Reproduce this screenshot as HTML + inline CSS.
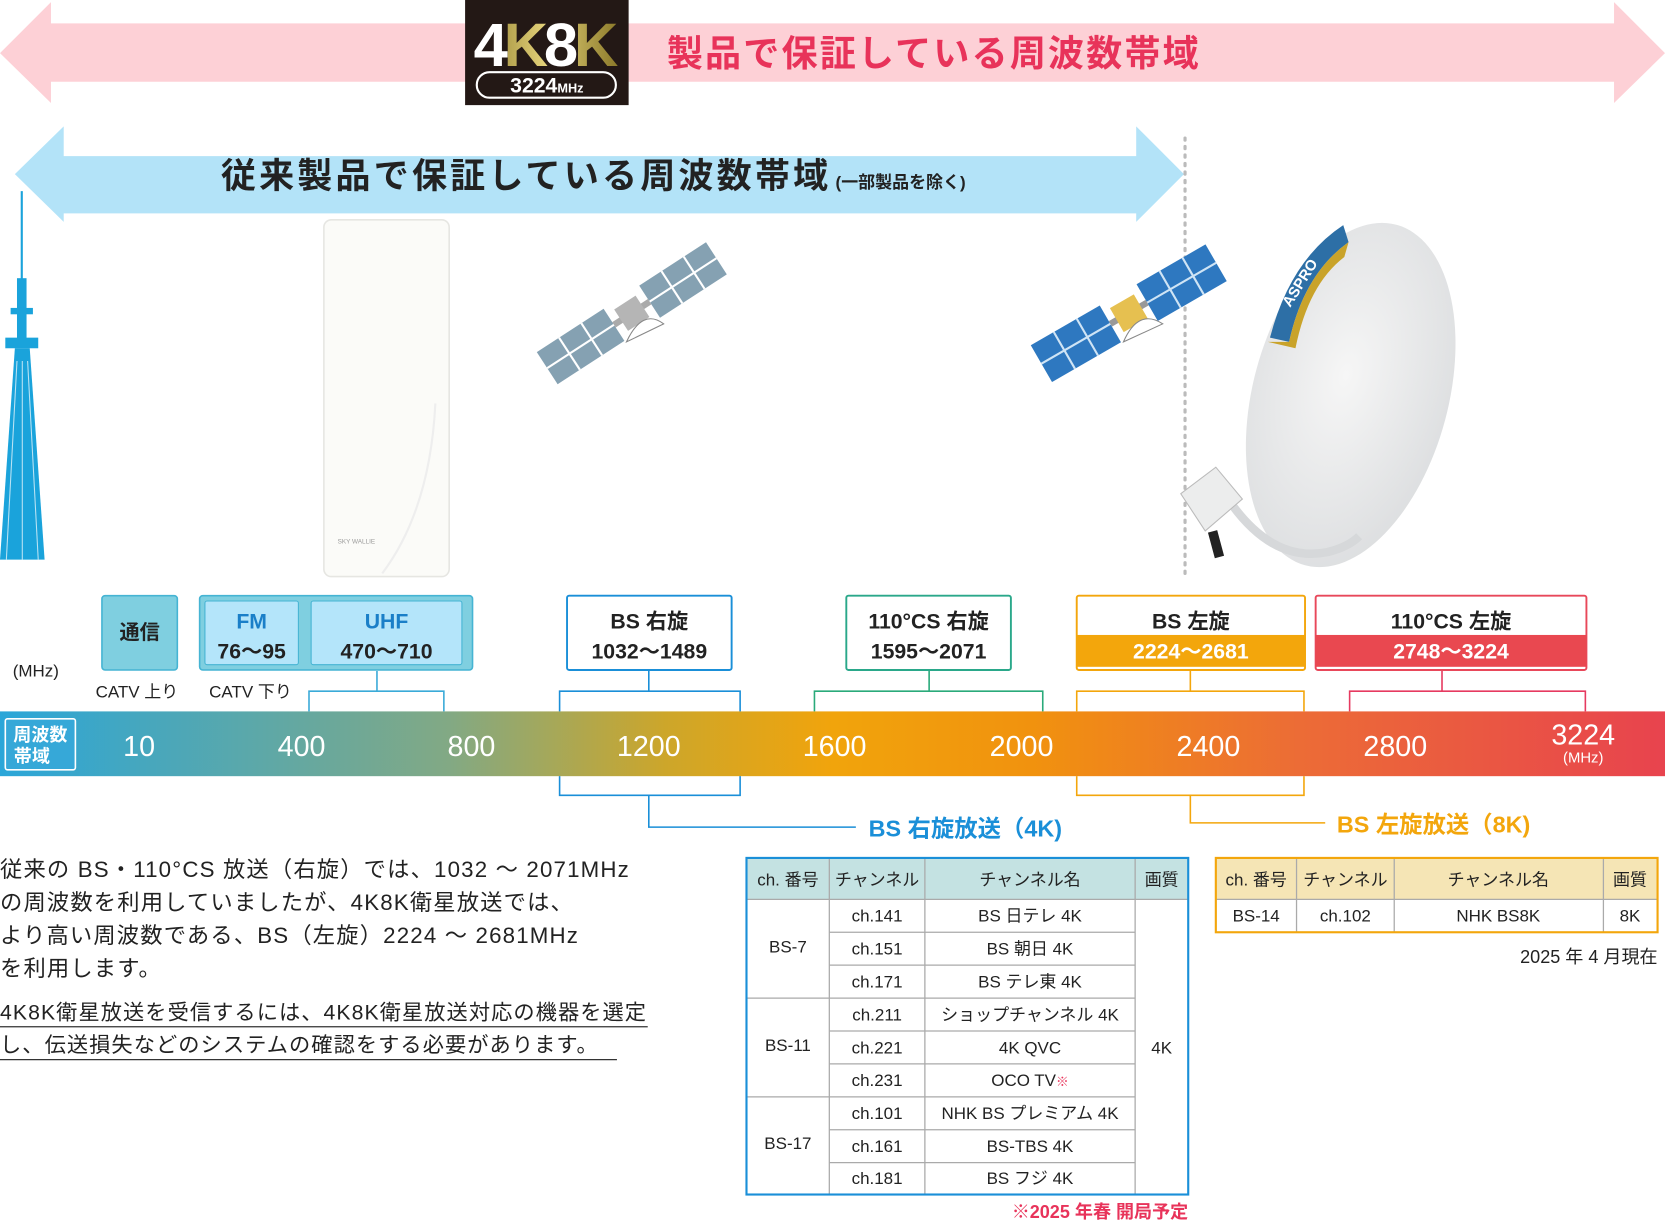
<!DOCTYPE html>
<html><head><meta charset="utf-8"><style>
html,body{margin:0;padding:0;background:#fff;width:1665px;height:1220px;overflow:hidden}
svg{display:block}
text{font-family:"Liberation Sans","Noto Sans CJK JP",sans-serif}
</style></head><body>
<svg width="1665" height="1220" viewBox="0 0 1568 1149" preserveAspectRatio="none" xmlns="http://www.w3.org/2000/svg">
<defs>
<linearGradient id="bar" x1="0" x2="1" y1="0" y2="0">
<stop offset="0" stop-color="#2aa6d9"/>
<stop offset="0.27" stop-color="#82a984"/>
<stop offset="0.4" stop-color="#cda62a"/>
<stop offset="0.5" stop-color="#f1a40c"/>
<stop offset="0.62" stop-color="#f1920e"/>
<stop offset="0.78" stop-color="#ec6c36"/>
<stop offset="1" stop-color="#e8434e"/>
</linearGradient>
<linearGradient id="gold" x1="0" x2="1"><stop offset="0" stop-color="#8c7a2a"/><stop offset="0.5" stop-color="#e4d27a"/><stop offset="1" stop-color="#8c7a2a"/></linearGradient>
<radialGradient id="dish" cx="0.45" cy="0.45" r="0.7"><stop offset="0" stop-color="#f6f6f6"/><stop offset="1" stop-color="#d8dadc"/></radialGradient>
</defs>

<polygon points="0,50 48,2 48,22 1520,22 1520,2 1568,50 1520,97 1520,77 48,77 48,97" fill="#fdd0d6"/>
<rect x="438" y="0" width="154" height="99" fill="#231815"/>
<text x="446" y="62" font-size="58" font-weight="bold" fill="#fff" letter-spacing="-4">4<tspan fill="url(#gold)">K</tspan>8<tspan fill="url(#gold)">K</tspan></text>
<rect x="449" y="68" width="131" height="24" rx="12" fill="none" stroke="#fff" stroke-width="2"/>
<text x="515" y="87" font-size="20" font-weight="bold" fill="#fff" text-anchor="middle">3224<tspan font-size="12">MHz</tspan></text>
<text x="628" y="62" font-size="34" font-weight="bold" fill="#e8335a" letter-spacing="2">製品で保証している周波数帯域</text>

<polygon points="14,164 60,119 60,147 1070,147 1070,119 1115,164 1070,209 1070,201 60,201 60,209" fill="#b3e3f8"/>
<text x="208" y="177" font-size="33" fill="#222" font-weight="bold"><tspan letter-spacing="3">従来製品で保証している周波数帯域</tspan><tspan font-size="16" dx="4">(一部製品を除く)</tspan></text>
<line x1="1116" y1="130" x2="1116" y2="540" stroke="#bbb" stroke-width="3" stroke-dasharray="2 6" stroke-linecap="round"/>

<g fill="#1aa3db">
<rect x="19.5" y="180" width="2" height="90"/>
<rect x="16" y="262" width="9" height="58"/>
<rect x="10" y="290" width="21" height="6"/>
<rect x="5" y="318" width="31" height="10"/>
<polygon points="14,328 28,328 42,527 0,527"/>
</g>
<g stroke="#fff" stroke-width="1" opacity="0.7">
<line x1="16" y1="340" x2="6" y2="527"/><line x1="26" y1="340" x2="36" y2="527"/><line x1="21" y1="340" x2="21" y2="527"/>
</g>

<rect x="305" y="207" width="118" height="336" rx="7" fill="#fbfbf8" stroke="#e6e6e2" stroke-width="1.5"/>
<path d="M410 380 Q405 480 360 540" fill="none" stroke="#eee" stroke-width="2"/>
<text x="318" y="512" font-size="6" fill="#999">SKY WALLIE</text>

<g transform="translate(595,295) rotate(-33)">
<rect x="-95" y="-18" width="75" height="36" fill="#85a1b2"/>
<rect x="20" y="-18" width="75" height="36" fill="#85a1b2"/>
<g stroke="#fff" stroke-width="2"><line x1="-70" y1="-18" x2="-70" y2="18"/><line x1="-45" y1="-18" x2="-45" y2="18"/><line x1="-95" y1="0" x2="-20" y2="0"/><line x1="45" y1="-18" x2="45" y2="18"/><line x1="70" y1="-18" x2="70" y2="18"/><line x1="20" y1="0" x2="95" y2="0"/></g>
<rect x="-20" y="-3" width="40" height="6" fill="#aaa"/>
<rect x="-12" y="-12" width="24" height="24" fill="#b5b5b5"/>
</g>
<path d="M590 322 Q605 290 625 305 Z" fill="#fff" stroke="#888"/>

<g transform="translate(1063,295) rotate(-30)">
<rect x="-95" y="-20" width="75" height="40" fill="#2e78c0"/>
<rect x="20" y="-20" width="75" height="40" fill="#2e78c0"/>
<g stroke="#cfe4f5" stroke-width="2"><line x1="-70" y1="-20" x2="-70" y2="20"/><line x1="-45" y1="-20" x2="-45" y2="20"/><line x1="-95" y1="0" x2="-20" y2="0"/><line x1="45" y1="-20" x2="45" y2="20"/><line x1="70" y1="-20" x2="70" y2="20"/><line x1="20" y1="0" x2="95" y2="0"/></g>
<rect x="-20" y="-3" width="40" height="6" fill="#999"/>
<rect x="-13" y="-13" width="26" height="26" fill="#e6c050"/>
</g>
<path d="M1058 322 Q1072 290 1095 305 Z" fill="#fff" stroke="#888"/>

<ellipse cx="1272" cy="372" rx="92" ry="166" transform="rotate(15 1272 372)" fill="url(#dish)"/>
<path d="M1196 318 Q1215 245 1265 212 L1270 228 Q1228 258 1214 322 Z" fill="#2d6fa6"/>
<path d="M1194 322 L1214 322 Q1228 258 1270 228 L1266 242 Q1232 268 1220 328 Z" fill="#c9a32a"/>
<text x="1215" y="290" font-size="14" font-weight="bold" fill="#fff" transform="rotate(-58 1215 290)">ASPRO</text>
<path d="M1160 475 Q1200 530 1250 520 Q1270 515 1280 505" fill="none" stroke="#d6d8da" stroke-width="8"/>
<path d="M1112 465 L1145 440 L1170 470 L1135 500 Z" fill="#eceded" stroke="#bbb"/>
<rect x="1140" y="500" width="9" height="25" fill="#222" transform="rotate(-15 1145 510)"/>

<rect x="96" y="561" width="71" height="70" rx="3" fill="#7fcfe0" stroke="#45b4d3" stroke-width="1.5"/>
<text x="131.5" y="602" font-size="19" font-weight="bold" fill="#222" text-anchor="middle">通信</text>
<rect x="188" y="561" width="257" height="70" rx="3" fill="#7fcfe0" stroke="#45b4d3" stroke-width="1.5"/>
<rect x="193" y="566" width="88" height="60" rx="2" fill="#b4e5fa" stroke="#45b4d3"/>
<rect x="293" y="566" width="142" height="60" rx="2" fill="#b4e5fa" stroke="#45b4d3"/>
<text x="237" y="592" font-size="20" font-weight="bold" fill="#1a7fc8" text-anchor="middle">FM</text>
<text x="237" y="620" font-size="20" font-weight="bold" fill="#222" text-anchor="middle">76～95</text>
<text x="364" y="592" font-size="20" font-weight="bold" fill="#1a7fc8" text-anchor="middle">UHF</text>
<text x="364" y="620" font-size="20" font-weight="bold" fill="#222" text-anchor="middle">470～710</text>

<rect x="534" y="561" width="155" height="70" rx="2" fill="#fff" stroke="#1a8fd8" stroke-width="1.8"/>
<text x="611.5" y="592" font-size="20" font-weight="bold" fill="#222" text-anchor="middle">BS 右旋</text>
<text x="611.5" y="620" font-size="20" font-weight="bold" fill="#222" text-anchor="middle">1032～1489</text>

<rect x="797" y="561" width="155" height="70" rx="2" fill="#fff" stroke="#2aa88a" stroke-width="1.8"/>
<text x="874.5" y="592" font-size="20" font-weight="bold" fill="#222" text-anchor="middle">110°CS 右旋</text>
<text x="874.5" y="620" font-size="20" font-weight="bold" fill="#222" text-anchor="middle">1595～2071</text>

<rect x="1014" y="561" width="215" height="70" rx="2" fill="#fff" stroke="#f3a60c" stroke-width="1.8"/>
<rect x="1014" y="598" width="215" height="30" fill="#f3a60c"/>
<text x="1121.5" y="592" font-size="20" font-weight="bold" fill="#222" text-anchor="middle">BS 左旋</text>
<text x="1121.5" y="620" font-size="20" font-weight="bold" fill="#fff" text-anchor="middle">2224～2681</text>

<rect x="1239" y="561" width="255" height="70" rx="2" fill="#fff" stroke="#e8485a" stroke-width="1.8"/>
<rect x="1239" y="598" width="255" height="30" fill="#e94850"/>
<text x="1366.5" y="592" font-size="20" font-weight="bold" fill="#222" text-anchor="middle">110°CS 左旋</text>
<text x="1366.5" y="620" font-size="20" font-weight="bold" fill="#fff" text-anchor="middle">2748～3224</text>

<text x="12" y="637" font-size="16" fill="#222">(MHz)</text>
<text x="90" y="657" font-size="16" fill="#222">CATV 上り</text>
<text x="197" y="657" font-size="16" fill="#222">CATV 下り</text>

<rect x="0" y="670" width="1568" height="61" fill="url(#bar)"/>
<rect x="5" y="677" width="66" height="48" rx="2" fill="#36a8d8" stroke="#fff" stroke-width="1.5"/>
<text x="38" y="698" font-size="17" font-weight="bold" fill="#fff" text-anchor="middle">周波数</text>
<text x="30" y="718" font-size="17" font-weight="bold" fill="#fff" text-anchor="middle">帯域</text>
<g font-size="27" fill="#fff" text-anchor="middle">
<text x="131" y="712">10</text><text x="284" y="712">400</text><text x="444" y="712">800</text><text x="611" y="712">1200</text><text x="786" y="712">1600</text><text x="962" y="712">2000</text><text x="1138" y="712">2400</text><text x="1314" y="712">2800</text><text x="1491" y="701">3224</text>
<text x="1491" y="718" font-size="14">(MHz)</text>
</g>

<g fill="none" stroke-width="1.5">
<path d="M355 632V651M291 670V651H418V670" stroke="#3aaad8"/>
<path d="M611 632V651M527 670V651H697V670M527 731V749H697V731M611 749V779H806" stroke="#1a8fd8"/>
<path d="M875 632V651M767 670V651H982V670" stroke="#2aaa7a"/>
<path d="M1121 632V651M1014 670V651H1228V670M1014 731V749H1228V731M1121 749V775H1248" stroke="#f3a60c"/>
<path d="M1358 632V651M1271 670V651H1493V670" stroke="#e63a60"/>
</g>
<text x="818" y="788" font-size="22" font-weight="bold" fill="#1a8fd8">BS 右旋放送（4K)</text>
<text x="1259" y="784" font-size="22" font-weight="bold" fill="#f3a60c">BS 左旋放送（8K)</text>

<g font-size="21" fill="#222" letter-spacing="1.1">
<text x="0" y="826">従来の BS・110°CS 放送（右旋）では、1032 ～ 2071MHz</text>
<text x="0" y="857">の周波数を利用していましたが、4K8K衛星放送では、</text>
<text x="0" y="888">より高い周波数である、BS（左旋）2224 ～ 2681MHz</text>
<text x="0" y="919">を利用します。</text>
<text x="0" y="960" font-size="20" letter-spacing="1">4K8K衛星放送を受信するには、4K8K衛星放送対応の機器を選定</text>
<text x="0" y="991" font-size="20" letter-spacing="1">し、伝送損失などのシステムの確認をする必要があります。</text>
</g>
<line x1="0" y1="967" x2="610" y2="967" stroke="#333" stroke-width="1.2"/>
<line x1="0" y1="998" x2="581" y2="998" stroke="#333" stroke-width="1.2"/>

<rect x="703" y="808" width="416" height="39" fill="#c4e2e2"/>
<g stroke="#aaa" stroke-width="1.2">
<line x1="781" y1="808" x2="781" y2="1125"/><line x1="871" y1="808" x2="871" y2="1125"/><line x1="1069" y1="808" x2="1069" y2="1125"/>
<line x1="703" y1="847" x2="1119" y2="847"/>
<line x1="781" y1="878" x2="1069" y2="878"/><line x1="781" y1="909" x2="1069" y2="909"/>
<line x1="703" y1="940" x2="1069" y2="940"/>
<line x1="781" y1="971" x2="1069" y2="971"/><line x1="781" y1="1002" x2="1069" y2="1002"/>
<line x1="703" y1="1033" x2="1069" y2="1033"/>
<line x1="781" y1="1064" x2="1069" y2="1064"/><line x1="781" y1="1095" x2="1069" y2="1095"/>
</g>
<rect x="703" y="808" width="416" height="317" fill="none" stroke="#1a8fd8" stroke-width="2"/>
<g font-size="16" fill="#222" text-anchor="middle">
<text x="742" y="834">ch. 番号</text><text x="826" y="834">チャンネル</text><text x="970" y="834">チャンネル名</text><text x="1094" y="834">画質</text>
<text x="742" y="897">BS-7</text><text x="742" y="990">BS-11</text><text x="742" y="1082">BS-17</text><text x="1094" y="992">4K</text>
<text x="826" y="868">ch.141</text><text x="970" y="868">BS 日テレ 4K</text>
<text x="826" y="899">ch.151</text><text x="970" y="899">BS 朝日 4K</text>
<text x="826" y="930">ch.171</text><text x="970" y="930">BS テレ東 4K</text>
<text x="826" y="961">ch.211</text><text x="970" y="961">ショップチャンネル 4K</text>
<text x="826" y="992">ch.221</text><text x="970" y="992">4K QVC</text>
<text x="826" y="1023">ch.231</text><text x="970" y="1023">OCO TV<tspan fill="#e8335a" font-size="12">※</tspan></text>
<text x="826" y="1054">ch.101</text><text x="970" y="1054">NHK BS プレミアム 4K</text>
<text x="826" y="1085">ch.161</text><text x="970" y="1085">BS-TBS 4K</text>
<text x="826" y="1115">ch.181</text><text x="970" y="1115">BS フジ 4K</text>
</g>
<text x="1119" y="1147" font-size="17" font-weight="bold" fill="#e8335a" text-anchor="end">※2025 年春 開局予定</text>

<rect x="1145" y="808" width="416" height="39" fill="#f5e5b5"/>
<g stroke="#aaa" stroke-width="1.2">
<line x1="1221" y1="808" x2="1221" y2="878"/><line x1="1313" y1="808" x2="1313" y2="878"/><line x1="1510" y1="808" x2="1510" y2="878"/>
<line x1="1145" y1="847" x2="1561" y2="847"/>
</g>
<rect x="1145" y="808" width="416" height="70" fill="none" stroke="#f3a60c" stroke-width="2"/>
<g font-size="16" fill="#222" text-anchor="middle">
<text x="1183" y="834">ch. 番号</text><text x="1267" y="834">チャンネル</text><text x="1411" y="834">チャンネル名</text><text x="1535" y="834">画質</text>
<text x="1183" y="868">BS-14</text><text x="1267" y="868">ch.102</text><text x="1411" y="868">NHK BS8K</text><text x="1535" y="868">8K</text>
</g>
<text x="1561" y="907" font-size="17" fill="#222" text-anchor="end">2025 年 4 月現在</text>
</svg>
</body></html>
